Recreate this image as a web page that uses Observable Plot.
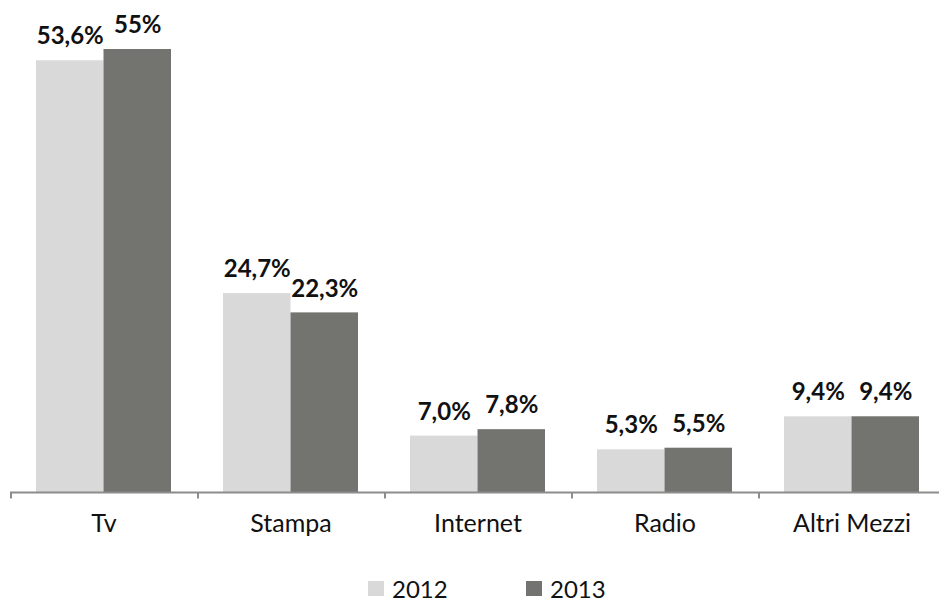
<!DOCTYPE html>
<html>
<head>
<meta charset="utf-8">
<script src="https://cdn.jsdelivr.net/npm/d3@7"></script>
<script src="https://cdn.jsdelivr.net/npm/@observablehq/plot@0.6"></script>
<style>
  body { margin: 0; background: #fff; font-family: "Lato", "Open Sans", sans-serif; }
  #legend { position: relative; height: 41px; width: 939px; font-size: 24px; color: #111; }
  .item { position: absolute; top: 12px; display: flex; align-items: center; }
  .sw { width: 16px; height: 15px; margin-right: 8px; }
</style>
</head>
<body>
<div id="chart"></div>
<div id="legend"></div>
<script>
const categories = ["Tv", "Stampa", "Internet", "Radio", "Altri Mezzi"];
const years = ["2012", "2013"];
const values2012 = [53.6, 24.7, 7.0, 5.3, 9.4];
const values2013 = [55, 22.3, 7.8, 5.5, 9.4];
const labels2012 = ["53,6%", "24,7%", "7,0%", "5,3%", "9,4%"];
const labels2013 = ["55%", "22,3%", "7,8%", "5,5%", "9,4%"];
const colors = ["#d9d9d9", "#737470"];

const d2012 = categories.map((c, i) => ({cat: c, v: values2012[i], label: labels2012[i]}));
const d2013 = categories.map((c, i) => ({cat: c, v: values2013[i], label: labels2013[i]}));

const bandW = 187;
const barW = 67.5;
const outer = 26;

const chart = Plot.plot({
  width: 939,
  height: 562,
  marginLeft: 10,
  marginRight: 0,
  marginTop: 0,
  marginBottom: 0,
  style: {fontFamily: "Lato, 'Open Sans', sans-serif", background: "#fff"},
  x: {domain: categories, range: [10, 10 + bandW * 5], padding: 0, axis: null},
  y: {domain: [0, 55], range: [492, 49], axis: null},
  marks: [
    Plot.barY(d2012, {x: "cat", y: "v", fill: colors[0], insetLeft: outer, insetRight: bandW - outer - barW}),
    Plot.barY(d2013, {x: "cat", y: "v", fill: colors[1], insetLeft: outer + barW, insetRight: outer}),
    Plot.ruleY([0], {stroke: "#8c8c8c", strokeWidth: 2}),
    Plot.rect(categories, {x: d => d, y1: 0, y2: -0.8, fill: "#8c8c8c", insetRight: bandW - 2}),
    Plot.text(d2012, {x: "cat", y: "v", text: "label", dx: outer + barW / 2 - bandW / 2, dy: -24, fontSize: 24, fontWeight: "bold", fill: "#111"}),
    Plot.text(d2013, {x: "cat", y: "v", text: "label", dx: outer + barW * 1.5 - bandW / 2, dy: -24, fontSize: 24, fontWeight: "bold", fill: "#111"}),
    Plot.text(categories, {x: d => d, y: 0, text: d => d, dy: 31, fontSize: 25, fill: "#111"})
  ]
});
document.getElementById("chart").appendChild(chart);

const legend = document.getElementById("legend");
const legendX = [368, 526];
years.forEach((y, i) => {
  const it = document.createElement("div");
  it.className = "item";
  it.style.left = legendX[i] + "px";
  it.innerHTML = `<span class="sw" style="background:${colors[i]}"></span><span>${y}</span>`;
  legend.appendChild(it);
});
</script>
</body>
</html>
